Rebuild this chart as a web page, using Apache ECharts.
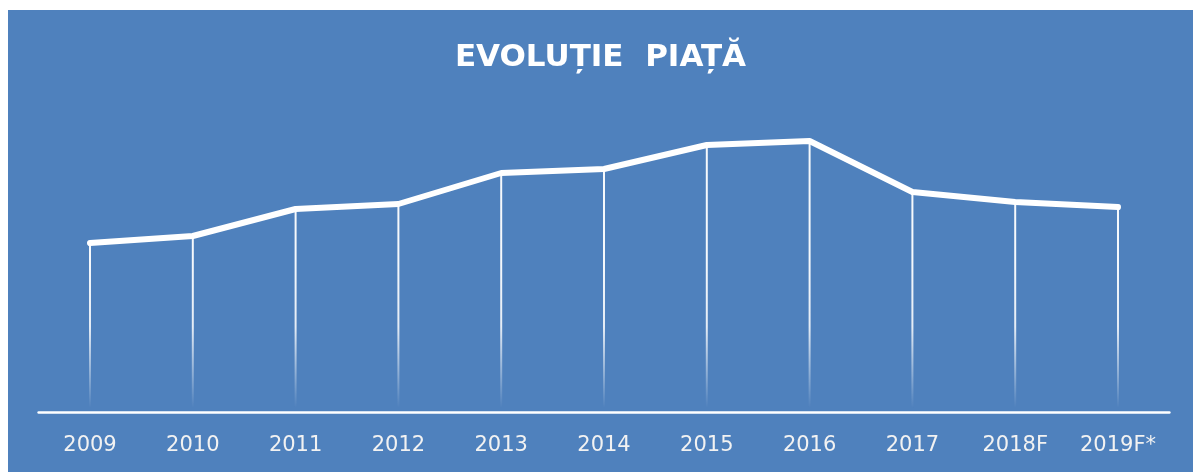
<!DOCTYPE html>
<html>
<head>
<meta charset="utf-8">
<script src="https://cdn.jsdelivr.net/npm/echarts@6/dist/echarts.min.js"></script>
<style>
html,body{margin:0;padding:0;background:#ffffff;width:1193px;height:472px;overflow:hidden;}
#panel{position:absolute;left:8px;top:10px;width:1185px;height:462px;background:#4F81BD;}
#chart{width:1185px;height:462px;}
</style>
</head>
<body>
<div id="panel"><div id="chart"></div></div>
<script>
const titleText = 'EVOLUȚIE  PIAȚĂ';
const categories = ['2009','2010','2011','2012','2013','2014','2015','2016','2017','2018F','2019F*'];
const marketValues = [169, 176, 203, 208, 239, 243, 267, 271, 220, 210, 205];

const chart = echarts.init(document.getElementById('chart'));
chart.setOption({
  backgroundColor: 'transparent',
  animation: false,
  title: {
    text: titleText,
    left: 'center',
    top: 32,
    padding: 0,
    textStyle: { color: '#ffffff', fontFamily: 'DejaVu Sans', fontWeight: 'bold', fontSize: 31 }
  },
  grid: { left: 30.6, right: 23.6, top: 2, bottom: 60 },
  xAxis: {
    type: 'category',
    data: categories,
    boundaryGap: true,
    axisLine: { lineStyle: { color: '#ffffff', width: 2.5 } },
    axisTick: { show: false },
    axisLabel: { color: '#f2f2f2', fontFamily: 'DejaVu Sans', fontSize: 21, margin: 23 },
    splitLine: { show: false }
  },
  yAxis: {
    type: 'value', min: 0, max: 400,
    show: false,
    splitLine: { show: false }
  },
  series: [
    {
      type: 'bar',
      data: marketValues,
      barWidth: 2,
      silent: true,
      itemStyle: {
        color: {
          type: 'linear', x: 0, y: 250, x2: 0, y2: 398, global: true,
          colorStops: [
            { offset: 0, color: 'rgba(255,255,255,0.95)' },
            { offset: 0.45, color: 'rgba(255,255,255,0.85)' },
            { offset: 1, color: 'rgba(255,255,255,0)' }
          ]
        }
      },
      z: 1
    },
    {
      type: 'line',
      data: marketValues,
      symbol: 'none',
      smooth: false,
      lineStyle: { color: '#ffffff', width: 6, cap: 'round', join: 'round' },
      z: 3
    }
  ]
});
</script>
</body>
</html>
